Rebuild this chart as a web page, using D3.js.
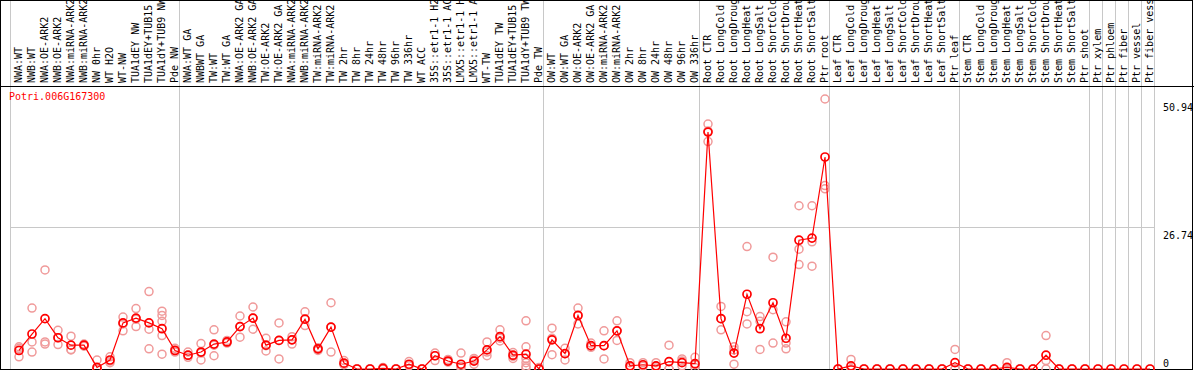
<!DOCTYPE html>
<html>
<head>
<meta charset="utf-8">
<script src="https://cdn.jsdelivr.net/npm/d3@7"></script>
<style>
  body { margin: 0; background: #fff; }
  svg text { font-family: "DejaVu Sans Mono", "Liberation Mono", monospace; font-size: 10px; }
</style>
</head>
<body>
<div id="chart"></div>
<script>
// gene id
var geneId = "Potri.006G167300";

// sample names, left to right
var samples = [
  "NWA:WT", "NWB:WT", "NWA:OE-ARK2", "NWB:OE-ARK2", "NWA:miRNA-ARK2", "NWB:miRNA-ARK2",
  "NW 0hr", "WT H2O", "WT-NW", "TUA1dEY NW", "TUA1dEY+TUB15 NW", "TUA1dY+TUB9 NW", "Pde NW",
  "NWA:WT GA", "NWBWT GA", "TW:WT", "TW:WT GA", "NWA:OE-ARK2 GA", "NWB:OE-ARK2 GA",
  "TW:OE-ARK2", "TW:OE-ARK2 GA", "NWA:miRNA-ARK2 GA", "NWB:miRNA-ARK2 GA", "TW:miRNA-ARK2",
  "TW:miRNA-ARK2 GA", "TW 2hr", "TW 8hr", "TW 24hr", "TW 48hr", "TW 96hr", "TW 336hr",
  "WT ACC", "35S::etr1-1 H2O", "35S::etr1-1 ACC", "LMX5::etr1-1 H2O", "LMX5::etr1-1 ACC",
  "WT-TW", "TUA1dEY TW", "TUA1dEY+TUB15 TW", "TUA1dY+TUB9 TW", "Pde TW",
  "OW:WT", "OW:WT GA", "OW:OE-ARK2", "OW:OE-ARK2 GA", "OW:miRNA-ARK2", "OW:miRNA-ARK2 GA",
  "OW 2hr", "OW 8hr", "OW 24hr", "OW 48hr", "OW 96hr", "OW 336hr",
  "Root CTR", "Root LongCold", "Root LongDrought", "Root LongHeat", "Root LongSalt",
  "Root ShortCold", "Root ShortDrought", "Root ShortHeat", "Root ShortSalt", "Ptr root",
  "Leaf CTR", "Leaf LongCold", "Leaf LongDrought", "Leaf LongHeat", "Leaf LongSalt",
  "Leaf ShortCold", "Leaf ShortDrought", "Leaf ShortHeat", "Leaf ShortSalt", "Ptr leaf",
  "Stem CTR", "Stem LongCold", "Stem LongDrought", "Stem LongHeat", "Stem LongSalt",
  "Stem ShortCold", "Stem ShortDrought", "Stem ShortHeat", "Stem ShortSalt", "Ptr shoot",
  "Ptr xylem", "Ptr phloem", "Ptr fiber", "Ptr vessel", "Ptr fiber vessel"
];

// number of samples in each experiment block
var groupSizes = [13, 28, 12, 10, 10, 10, 1, 1, 1, 1, 1];

// mean expression per sample
var means = [
  3.5, 6.6, 9.5, 5.9, 4.5, 4.5, 0.3, 1.7, 8.7, 9.6, 8.7, 7.6, 3.5,
  2.6, 3.2, 4.7, 5.1, 8.0, 9.6, 4.5, 5.4, 5.5, 9.4, 3.8, 7.9, 1.1, 0, 0, 0.1, 0, 0.9,
  0, 2.5, 1.5, 0.9, 1.5, 3.6, 6.1, 2.6, 2.8, 0,
  5.5, 2.9, 10.1, 4.4, 4.4, 7.2, 0.6, 0.8, 0.6, 1.4, 1.2, 1.0,
  44.7, 9.5, 3.0, 14.1, 7.6, 12.5, 5.8, 24.3, 24.7, 40.0,
  0, 0.6, 0, 0, 0, 0, 0, 0, 0, 1.2,
  0, 0, 0, 0.3, 0, 0, 2.6, 0, 0, 0,
  0, 0, 0, 0, 0
];

// individual replicates per sample
var replicates = [
  [4.2, 3.9, 2.3], [11.5, 5.1, 3.2], [18.7, 5.1, 4.7], [7.3, 5.9, 4.6], [6.2, 3.7, 3.6],
  [4.7, 4.5, 4.3], [1.7, 0, 0], [2.3, 1.5, 1.2], [9.8, 8.5, 7.2], [11.4, 9.4, 8.0],
  [14.6, 7.5, 3.8], [10.9, 10.1, 9.0, 6.3, 2.8], [3.9, 3.5, 3.2],
  [3.2, 2.6, 2.2], [4.8, 3.0, 1.7], [7.4, 4.5, 2.5], [5.4, 5.1, 4.9], [10.0, 8.0, 6.0],
  [11.7, 9.6, 7.5], [5.8, 4.4, 3.4], [8.7, 5.4, 1.9], [6.1, 5.5, 4.7], [10.8, 9.4, 8.2],
  [4.0, 3.7, 3.5], [12.5, 7.9, 3.2], [1.6, 0.9, 0.8], [0, 0, 0], [0, 0, 0], [0.3, 0, 0],
  [0, 0, 0], [1.4, 0.8, 0.6], [0, 0, 0], [3.0, 2.5, 1.6], [1.8, 1.4, 1.3], [3.0, 0.5, 0.2],
  [2.0, 1.7, 0.9], [5.1, 3.2, 2.5], [7.4, 5.8, 5.3], [3.1, 2.4, 2.0],
  [9.1, 4.2, 2.0, 1.2, 0.5, 0.2], [0.3, 0, 0],
  [7.7, 5.8, 2.7], [3.9, 2.9, 1.7], [11.5, 10.1, 8.5], [4.9, 4.3, 4.1], [7.2, 4.4, 1.9],
  [9.1, 7.2, 5.4], [1.2, 0.5, 0.3], [1.2, 0.7, 0.5], [1.2, 0.5, 0.2], [4.5, 0, 0],
  [1.9, 1.5, 0.6], [2.2, 0.8, 0.3],
  [46.2, 44.9, 42.9], [11.8, 9.5, 7.4], [4.2, 3.6, 0.9], [23.1, 10.8, 8.5], [9.9, 9.0, 3.7],
  [21.1, 11.2, 4.9], [8.9, 4.9, 3.8], [30.8, 22.6, 19.7], [30.8, 24.0, 19.4], [50.94, 34.6, 34.0],
  [0, 0, 0], [1.8, 0, 0], [0, 0, 0], [0, 0, 0], [0, 0, 0], [0, 0, 0], [0, 0, 0], [0, 0, 0],
  [0, 0, 0], [3.7, 0, 0],
  [0, 0, 0], [0, 0, 0], [0, 0, 0], [1.2, 0, 0], [0, 0, 0], [0, 0, 0], [6.3, 1.6, 0],
  [0, 0, 0], [0, 0, 0], [0, 0, 0],
  [0], [0], [0], [0], [0]
];

// value labels on the right
var yTicks = [0, 26.74, 50.94];

var width = 1194, height = 370;
var headerH = 86, baseY = 369;
var lineRed = "#ff0000", repPink = "#f09a9a", gridGrey = "#c8c8c8";

var svg = d3.select("#chart").append("svg")
	.attr("width", width)
	.attr("height", height);

var xScale = d3.scaleBand()
	.domain(d3.range(samples.length))
	.range([11, 11 + 13 * samples.length])
	.padding(0);

function cx(i) { return xScale(i) + 8; }

var yScale = d3.scaleLinear()
	.domain([0, 50.94])
	.range([baseY, 99]);

//Group separators
var bounds = [0];
groupSizes.forEach(function(s) { bounds.push(bounds[bounds.length - 1] + s); });
svg.selectAll("line.sep")
	.data(bounds)
	.enter()
	.append("line")
	.attr("class", "sep")
	.attr("x1", function(d) { return xScale(0) + d * xScale.bandwidth() - 0.5; })
	.attr("x2", function(d) { return xScale(0) + d * xScale.bandwidth() - 0.5; })
	.attr("y1", 0)
	.attr("y2", baseY)
	.attr("stroke", gridGrey)
	.attr("stroke-width", 1);

//Horizontal grid at middle tick
svg.append("line")
	.attr("x1", 11)
	.attr("x2", xScale(0) + samples.length * 13)
	.attr("y1", Math.round(yScale(yTicks[1])) + 0.5)
	.attr("y2", Math.round(yScale(yTicks[1])) + 0.5)
	.attr("stroke", gridGrey);

//Frame
svg.append("rect")
	.attr("x", 0.5).attr("y", 0.5)
	.attr("width", width - 2).attr("height", baseY)
	.attr("fill", "none")
	.attr("stroke", "#000");
svg.append("line")
	.attr("x1", 0).attr("x2", width)
	.attr("y1", headerH + 0.5).attr("y2", headerH + 0.5)
	.attr("stroke", "#000");

//Sample labels
svg.selectAll("text.sample")
	.data(samples)
	.enter()
	.append("text")
	.attr("class", "sample")
	.attr("text-anchor", "start")
	.attr("transform", function(d, i) { return "translate(" + (cx(i) + 3) + "," + 83 + ") rotate(-90)"; })
	.attr("fill", "#000")
	.text(function(d) { return d; });

//Title
svg.append("text")
	.attr("x", 9)
	.attr("y", 100)
	.attr("fill", lineRed)
	.text(geneId);

//Value axis labels
var yAxis = d3.axisRight(yScale).tickValues(yTicks).tickSize(0).tickFormat(function(d) { return String(d); });
var yg = svg.append("g").attr("transform", "translate(1163,0)").call(yAxis);
yg.select(".domain").remove();
yg.selectAll("text")
	.attr("x", 0)
	.attr("dy", null)
	.attr("y", function(d) { return Math.min(yScale(d) + 11, 366) - yScale(d); })
	.attr("fill", "#000")
	.style("font-family", "DejaVu Sans Mono, monospace")
	.style("font-size", "10px");

//Replicate dots
var repPoints = [];
replicates.forEach(function(reps, i) {
	reps.forEach(function(v) { repPoints.push({ i: i, v: v }); });
});
svg.selectAll("circle.rep")
	.data(repPoints)
	.enter()
	.append("circle")
	.attr("class", "rep")
	.attr("cx", function(d) { return cx(d.i); })
	.attr("cy", function(d) { return yScale(d.v); })
	.attr("r", 4)
	.attr("fill", "none")
	.attr("stroke", repPink)
	.attr("stroke-width", 1.5);

//Mean line
var lineGen = d3.line()
	.x(function(d, i) { return cx(i); })
	.y(function(d) { return yScale(d); });
svg.append("path")
	.attr("d", lineGen(means))
	.attr("fill", "none")
	.attr("stroke", lineRed)
	.attr("stroke-width", 1.2);

//Mean dots
svg.selectAll("circle.mean")
	.data(means)
	.enter()
	.append("circle")
	.attr("class", "mean")
	.attr("cx", function(d, i) { return cx(i); })
	.attr("cy", function(d) { return yScale(d); })
	.attr("r", 4)
	.attr("fill", "none")
	.attr("stroke", lineRed)
	.attr("stroke-width", 1.7);
</script>
</body>
</html>
